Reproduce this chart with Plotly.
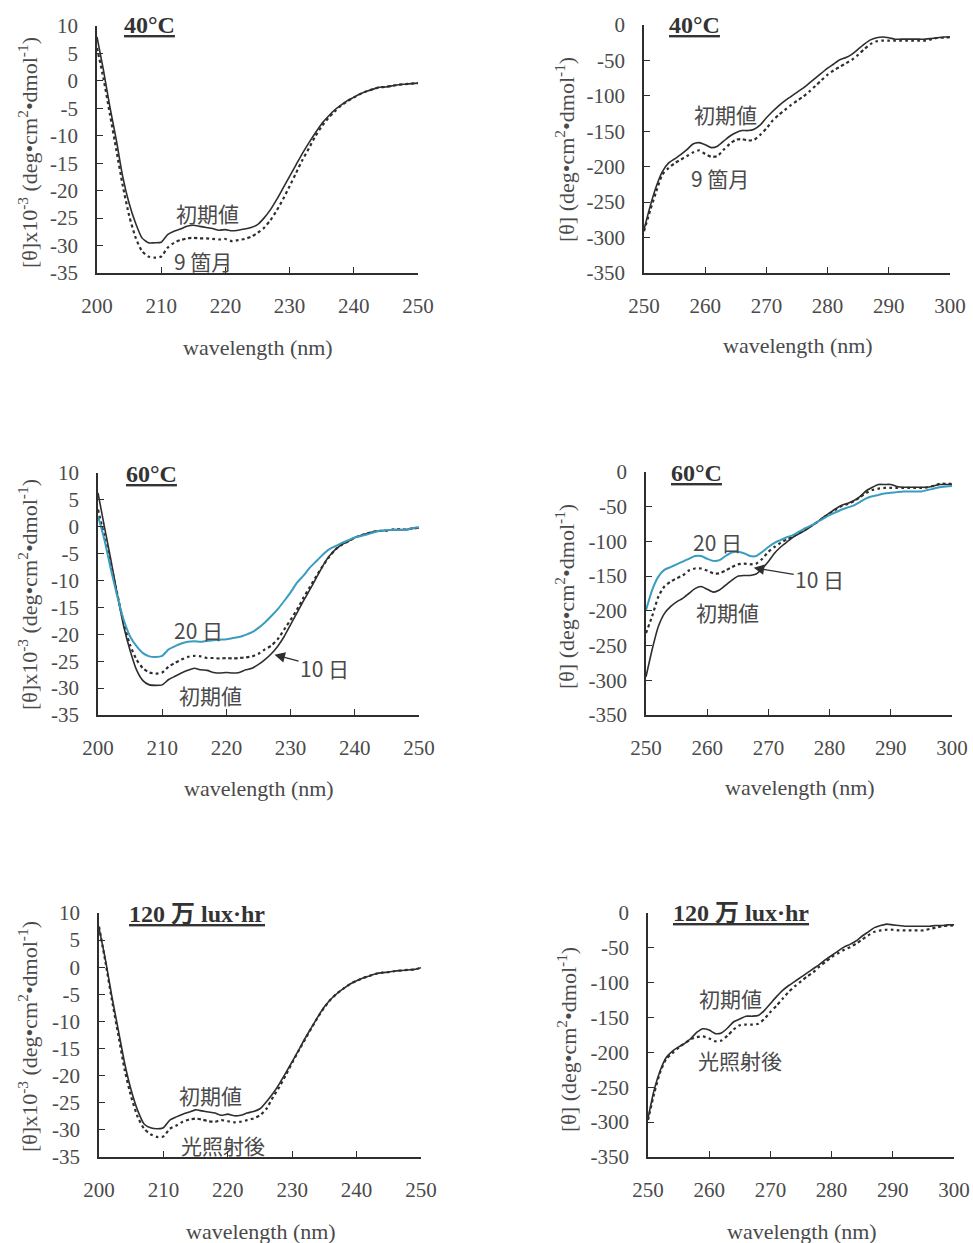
import plotly.graph_objects as go

W, H = 973, 1243

# ---------------- data ----------------
wl_far = list(range(200, 251))    # far-UV wavelengths (nm)
wl_near = list(range(250, 301))   # near-UV wavelengths (nm)

# 40°C, far UV ([θ]x10^-3)
p40_far_init = [8.0, 2.0, -4.7, -10.7, -17.4, -22.3, -25.9, -28.6, -29.5, -29.5, -29.4, -28.0, -27.4, -27.0,
                -26.5, -26.3, -26.5, -26.7, -26.9, -27.2, -27.1, -27.3, -27.2, -27.0, -26.7, -26.2, -25.0,
                -23.5, -21.6, -19.5, -17.4, -15.3, -13.2, -11.3, -9.5, -7.8, -6.5, -5.3, -4.4, -3.6, -3.0,
                -2.4, -1.9, -1.5, -1.15, -1.1, -0.9, -0.7, -0.6, -0.5, -0.4]
p40_far_9m = [6.0, 0.5, -6.0, -12.5, -19.0, -24.5, -28.5, -31.0, -32.0, -32.2, -32.0, -30.4, -29.5, -29.0,
              -28.7, -28.6, -28.7, -28.7, -28.8, -28.9, -28.8, -29.2, -29.0, -28.8, -28.4, -27.7, -26.8,
              -25.4, -23.6, -21.5, -19.2, -16.8, -14.4, -12.3, -10.1, -8.3, -6.8, -5.6, -4.5, -3.7, -3.0,
              -2.4, -1.9, -1.5, -1.15, -1.1, -0.9, -0.7, -0.6, -0.5, -0.4]

# 40°C, near UV
p40_near_init = [-289, -256, -228, -207, -195, -189, -183, -176, -168, -166, -169, -173, -171, -164, -157,
                 -152, -149, -149, -147, -141, -131, -122, -114, -107, -101, -95, -89, -82, -75, -68, -61,
                 -55, -49, -46, -41, -34, -27, -21, -18, -17, -18, -20, -20, -20, -20, -20, -20, -19, -18,
                 -17, -17]
p40_near_9m = [-291, -262, -235, -211, -202, -195, -190, -185, -180, -177, -182, -186, -185, -176, -168,
               -162, -161, -163, -162, -155, -146, -135, -127, -120, -113, -107, -101, -94, -86, -78, -70,
               -64, -59, -54, -49, -42, -34, -27, -23, -22, -22, -22, -22, -22, -22, -22, -22, -20, -18,
               -18, -17]

# 60°C, far UV
p60_far_init = [6.3, 0.0, -6.1, -12.5, -18.5, -23.0, -26.6, -28.6, -29.4, -29.5, -29.4, -28.4, -27.8, -27.2,
                -26.7, -26.3, -26.6, -26.7, -27.1, -27.2, -27.1, -27.2, -27.1, -26.6, -26.3, -25.6, -24.7,
                -23.6, -22.2, -20.4, -18.2, -16.0, -13.8, -11.7, -9.5, -7.3, -5.5, -4.2, -3.3, -2.7, -2.0,
                -1.6, -1.2, -0.9, -0.75, -0.7, -0.5, -0.5, -0.5, -0.3, -0.2]
p60_far_10d = [3.2, -1.8, -7.0, -12.5, -17.9, -22.0, -24.7, -26.3, -27.1, -27.3, -27.1, -26.0, -25.3, -24.7,
               -24.2, -24.0, -24.1, -24.4, -24.4, -24.5, -24.4, -24.5, -24.4, -24.3, -24.1, -23.6, -22.8,
               -22.1, -20.9, -19.1, -17.3, -15.4, -13.2, -11.2, -9.2, -7.3, -5.6, -4.2, -3.3, -2.7, -2.0,
               -1.6, -1.2, -0.9, -0.75, -0.7, -0.5, -0.5, -0.5, -0.3, -0.2]
p60_far_20d = [2.0, -2.4, -7.9, -12.9, -17.3, -20.4, -22.2, -23.5, -24.1, -24.2, -24.0, -22.8, -22.2, -21.7,
               -21.4, -21.3, -21.4, -21.2, -21.1, -21.0, -20.9, -20.7, -20.5, -20.1, -19.6, -18.8, -17.8,
               -16.6, -15.3, -13.8, -12.2, -10.4, -9.1, -7.6, -6.4, -5.2, -4.2, -3.6, -3.0, -2.5, -2.0,
               -1.7, -1.4, -1.0, -0.75, -0.6, -0.6, -0.6, -0.6, -0.25, -0.1]

# 60°C, near UV
p60_near_init = [-295, -256, -223, -204, -194, -187, -182, -175, -168, -165, -169, -173, -170, -163, -156,
                 -150, -149, -149, -147, -139, -129, -117, -108, -101, -94, -89, -84, -78, -72, -65, -59,
                 -53, -48, -45, -41, -35, -27, -22, -18, -18, -18, -21, -22, -22, -22, -22, -22, -20, -18,
                 -18, -18]
p60_near_10d = [-232, -208, -180, -165, -158, -153, -149, -142, -139, -139, -142, -146, -146, -142, -137,
                -133, -132, -133, -132, -125, -115, -108, -102, -97, -93, -88, -83, -78, -72, -66, -60,
                -54, -49, -46, -42, -36, -30, -26, -24, -23, -23, -23, -23, -23, -23, -23, -22, -20, -17,
                -17, -17]
p60_near_20d = [-199, -170, -151, -141, -137, -133, -129, -125, -121, -121, -125, -128, -127, -121, -116,
                -115, -117, -121, -121, -115, -108, -102, -98, -94, -91, -86, -81, -77, -72, -67, -62,
                -58, -54, -51, -48, -43, -38, -35, -33, -31, -30, -29, -28, -28, -28, -28, -26, -24, -22,
                -21, -20]

# 120万 lux·hr, far UV
plx_far_init = [7.2, 1.4, -5.4, -11.6, -17.8, -22.7, -26.4, -28.9, -29.6, -29.8, -29.6, -28.2, -27.6, -27.1,
                -26.7, -26.3, -26.5, -26.7, -26.9, -27.3, -27.1, -27.4, -27.3, -26.9, -26.6, -26.1, -24.8,
                -23.3, -21.5, -19.5, -17.4, -15.3, -13.1, -11.1, -9.1, -7.3, -5.9, -4.8, -3.9, -3.1, -2.5,
                -2.0, -1.6, -1.2, -1.0, -0.9, -0.7, -0.6, -0.5, -0.4, -0.1]
plx_far_light = [7.5, 1.0, -6.0, -12.5, -19.0, -23.9, -27.6, -29.8, -30.8, -31.3, -31.2, -29.8, -29.2, -28.5,
                 -28.1, -27.9, -28.1, -28.4, -28.5, -28.2, -28.4, -28.6, -28.5, -28.2, -27.9, -27.3, -26.1,
                 -24.0, -22.1, -19.9, -17.6, -15.4, -13.3, -11.2, -9.2, -7.4, -5.9, -4.8, -3.9, -3.1, -2.5,
                 -2.0, -1.6, -1.2, -1.0, -0.9, -0.7, -0.6, -0.5, -0.4, -0.1]

# 120万 lux·hr, near UV
plx_near_init = [-295, -254, -226, -207, -198, -192, -187, -180, -171, -166, -168, -173, -172, -165, -156,
                 -152, -148, -148, -147, -140, -130, -120, -111, -104, -98, -92, -86, -80, -74, -67, -61,
                 -55, -49, -45, -40, -33, -27, -21, -18, -16, -17, -18, -19, -19, -19, -19, -19, -18, -18,
                 -17, -17]
plx_near_light = [-297, -259, -228, -209, -201, -193, -187, -181, -178, -177, -180, -184, -183, -176, -167,
                  -161, -160, -160, -159, -152, -142, -133, -123, -113, -105, -98, -91, -85, -77, -70, -63,
                  -58, -53, -49, -44, -38, -32, -27, -25, -24, -24, -25, -25, -25, -25, -25, -23, -21, -19,
                  -18, -18]

far_ticks = [200, 210, 220, 230, 240, 250]
near_ticks = [250, 260, 270, 280, 290, 300]
far_yticks = [10, 5, 0, -5, -10, -15, -20, -25, -30, -35]
far_ytick_text = ["10", "5", "0", "-5", "-10", "-15", "-20", "-25", "-30", "-35"]
near_yticks = [0, -50, -100, -150, -200, -250, -300, -350]
near_ytick_text = ["0", "-50", "-100", "-150", "-200", "-250", "-300", "-350"]

panel_titles = ["40°C", "40°C", "60°C", "60°C", "120 万 lux·hr", "120 万 lux·hr"]
far_ytitle = "[θ]x10<sup>-3</sup> (deg•cm<sup>2</sup>•dmol<sup>-1</sup>)"
near_ytitle = "[θ] (deg•cm<sup>2</sup>•dmol<sup>-1</sup>)"
xtitle = "wavelength (nm)"

# ---------------- styling ----------------
SERIF = "Liberation Serif, Times New Roman, serif"
CJK = "Noto Sans CJK JP, sans-serif"
INK = "#2e2e2e"
TXT = "#4a4a4a"
CYAN = "#3a9dc0"

# panel boxes in pixels: (x0, x1, ytop, ybottom)
boxes = [
    (97, 418, 26, 273), (644, 950, 25, 273),
    (98, 419, 473, 715), (646, 952, 472, 715),
    (99, 421, 913, 1157), (648, 954, 913, 1157),
]

def px(x):
    return x / W

def py(y):
    return 1 - y / H

fig = go.Figure()

def solid(x, y, i, color=INK, width=1.6):
    ax = "" if i == 1 else str(i)
    fig.add_trace(go.Scatter(x=x, y=y, mode="lines", xaxis="x" + ax, yaxis="y" + ax,
                             line=dict(color=color, width=width, shape="spline", smoothing=0.6),
                             showlegend=False, hoverinfo="x+y"))

def dotted(x, y, i):
    ax = "" if i == 1 else str(i)
    fig.add_trace(go.Scatter(x=x, y=y, mode="lines", xaxis="x" + ax, yaxis="y" + ax,
                             line=dict(color=INK, width=2.2, dash="dot", shape="spline", smoothing=0.6),
                             showlegend=False, hoverinfo="x+y"))

# panel 1
dotted(wl_far, p40_far_9m, 1)
solid(wl_far, p40_far_init, 1)
# panel 2
dotted(wl_near, p40_near_9m, 2)
solid(wl_near, p40_near_init, 2)
# panel 3
solid(wl_far, p60_far_init, 3)
dotted(wl_far, p60_far_10d, 3)
solid(wl_far, p60_far_20d, 3, color=CYAN, width=2.0)
# panel 4
solid(wl_near, p60_near_init, 4)
dotted(wl_near, p60_near_10d, 4)
solid(wl_near, p60_near_20d, 4, color=CYAN, width=2.0)
# panel 5
dotted(wl_far, plx_far_light, 5)
solid(wl_far, plx_far_init, 5)
# panel 6
dotted(wl_near, plx_near_light, 6)
solid(wl_near, plx_near_init, 6)

layout = dict(
    width=W, height=H, autosize=False,
    paper_bgcolor="white", plot_bgcolor="white",
    margin=dict(l=0, r=0, t=0, b=0),
    showlegend=False,
)

for i, (x0, x1, yt, yb) in enumerate(boxes, start=1):
    far = (i % 2 == 1)
    sfx = "" if i == 1 else str(i)
    layout["xaxis" + sfx] = dict(
        domain=[px(x0), px(x1)], anchor="y" + sfx,
        range=[200, 250] if far else [250, 300],
        tickvals=far_ticks if far else near_ticks,
        ticks="inside", ticklen=6, tickwidth=1.3, tickcolor=INK,
        showline=True, linecolor=INK, linewidth=1.6,
        showgrid=False, zeroline=False, automargin=False,
        tickfont=dict(family=SERIF, size=21, color=TXT),
        ticklabelstandoff=13,
    )
    layout["yaxis" + sfx] = dict(
        domain=[py(yb), py(yt)], anchor="x" + sfx,
        range=[-35, 10] if far else [-350, 0],
        tickvals=far_yticks if far else near_yticks,
        ticktext=far_ytick_text if far else near_ytick_text,
        ticks="inside", ticklen=6, tickwidth=1.3, tickcolor=INK,
        showline=True, linecolor=INK, linewidth=1.6,
        showgrid=False, zeroline=False, automargin=False,
        tickfont=dict(family=SERIF, size=21, color=TXT),
        ticklabelstandoff=13,
    )

fig.update_layout(**layout)

ann = []

def label(text, x, y, size=21, font=CJK, color=TXT, **fontextra):
    ann.append(dict(text=text, x=px(x), y=py(y), xref="paper", yref="paper",
                    showarrow=False, xanchor="center", yanchor="middle",
                    font=dict(family=font, size=size, color=color, **fontextra)))

# panel titles (bold, underlined)
title_pos = [(149, 25), (694, 25), (151, 474), (696, 473), (197, 914), (741, 913)]
for t, (x, y) in zip(panel_titles, title_pos):
    fam = SERIF if "万" not in t else "Liberation Serif, Noto Sans CJK JP, serif"
    label(t, x, y, size=24, font=fam, color="#333333", weight="bold", lineposition="under")

# axis titles
ytitle_pos = [(28, 153), (565, 150), (28, 595), (565, 597), (28, 1037), (567, 1040)]
for i, (x, y) in enumerate(ytitle_pos, start=1):
    ann.append(dict(text=far_ytitle if i % 2 == 1 else near_ytitle, x=px(x), y=py(y),
                    xref="paper", yref="paper", showarrow=False, textangle=-90,
                    xanchor="center", yanchor="middle",
                    font=dict(family=SERIF, size=22, color=TXT)))
xtitle_pos = [(258, 347), (798, 345), (259, 788), (800, 787), (261, 1231), (802, 1231)]
for (x, y) in xtitle_pos:
    label(xtitle, x, y, size=22, font=SERIF)

# curve labels
label("初期値", 207, 213)
label("9 箇月", 203, 261)
label("初期値", 725, 114)
label("9 箇月", 720, 178)
label("20 日", 198, 630)
label("初期値", 210, 695)
label("20 日", 717, 542)
label("初期値", 727, 612)
label("初期値", 210, 1095)
label("光照射後", 223, 1145)
label("初期値", 730, 998)
label("光照射後", 740, 1060)

# arrowed labels "10 日"
ann.append(dict(text="10 日", x=227.5, y=-23.8, xref="x3", yref="y3",
                ax=50, ay=13, showarrow=True, arrowhead=2, arrowsize=1.6, arrowwidth=1.3,
                arrowcolor=INK, xanchor="center", yanchor="middle",
                font=dict(family=CJK, size=21, color=TXT)))
ann.append(dict(text="10 日", x=267.6, y=-138, xref="x4", yref="y4",
                ax=66, ay=11, showarrow=True, arrowhead=2, arrowsize=1.6, arrowwidth=1.3,
                arrowcolor=INK, xanchor="center", yanchor="middle",
                font=dict(family=CJK, size=21, color=TXT)))

fig.update_layout(annotations=ann)

# the page should hold the figure at its top-left corner with no body margin
fig.write_html("out.html", config={"displayModeBar": False},
               post_script="document.body.style.margin='0';document.body.style.overflow='hidden';")
